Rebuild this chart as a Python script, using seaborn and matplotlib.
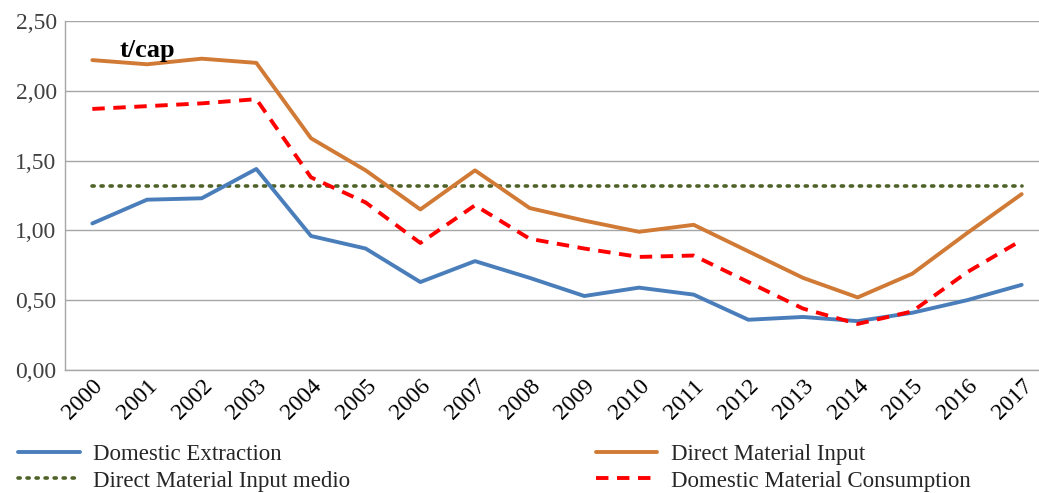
import matplotlib
matplotlib.use("Agg")
import matplotlib.pyplot as plt
import seaborn as sns
import pandas as pd
from matplotlib.ticker import FuncFormatter

years = [str(y) for y in range(2000, 2018)]

domestic_extraction = [1.05, 1.22, 1.23, 1.44, 0.96, 0.87, 0.63, 0.78, 0.66,
                       0.53, 0.59, 0.54, 0.36, 0.38, 0.35, 0.41, 0.50, 0.61]
direct_material_input = [2.22, 2.19, 2.23, 2.20, 1.66, 1.43, 1.15, 1.43, 1.16,
                         1.07, 0.99, 1.04, 0.85, 0.66, 0.52, 0.69, 0.98, 1.26]
dmi_medio = 1.32
domestic_material_consumption = [1.87, 1.89, 1.91, 1.94, 1.38, 1.20, 0.91, 1.18, 0.94,
                                 0.87, 0.81, 0.82, 0.63, 0.44, 0.33, 0.42, 0.70, 0.93]

y_ticks = [0.0, 0.5, 1.0, 1.5, 2.0, 2.5]

sns.set_theme(style="white")
plt.rcParams["font.family"] = ["Liberation Serif", "DejaVu Serif"]

fig = plt.figure(figsize=(10.39, 4.93), dpi=100)
ax = fig.add_axes([65 / 1039, 1 - 370 / 493, (1049 - 65) / 1039, (370 - 21) / 493])

df = pd.DataFrame({
    "year": years,
    "de": domestic_extraction,
    "dmi": direct_material_input,
    "medio": [dmi_medio] * len(years),
    "dmc": domestic_material_consumption,
})

sns.lineplot(data=df, x="year", y="medio", ax=ax, color="#4f6228",
             linewidth=2.6, linestyle=(0, (0.6, 1.9)), dash_capstyle="round",
             label="Direct Material Input medio", sort=False)
sns.lineplot(data=df, x="year", y="de", ax=ax, color="#4a7ebb",
             linewidth=2.8, label="Domestic Extraction", sort=False)
sns.lineplot(data=df, x="year", y="dmi", ax=ax, color="#d07a35",
             linewidth=2.8, label="Direct Material Input", sort=False)
sns.lineplot(data=df, x="year", y="dmc", ax=ax, color="#ff0000",
             linewidth=2.8, linestyle=(0, (3.2, 2.2)),
             label="Domestic Material Consumption", sort=False)

ax.set_xlim(-0.5, len(years) - 0.5)
ax.set_ylim(0, 2.5)
ax.set_yticks(y_ticks)
ax.yaxis.set_major_formatter(FuncFormatter(lambda v, _: f"{v:.2f}".replace(".", ",")))
ax.grid(axis="y", color="#a6a6a6", linewidth=1.0)
ax.grid(axis="x", visible=False)
ax.set_xlabel("")
ax.set_ylabel("")

for side in ["top", "right"]:
    ax.spines[side].set_visible(False)
for side in ["left", "bottom"]:
    ax.spines[side].set_color("#a6a6a6")
    ax.spines[side].set_linewidth(1.0)

ax.tick_params(axis="y", labelsize=17, colors="#404040", length=0, pad=6)
ax.tick_params(axis="x", labelsize=17, colors="#000000", length=0, pad=4)
plt.setp(ax.get_xticklabels(), rotation=45, ha="right", rotation_mode="anchor")

ax.text(0.5, 2.29, "t/cap", fontsize=19, fontweight="bold", color="#000000",
        ha="left", va="center")

handles, labels = ax.get_legend_handles_labels()
order = [1, 0, 2, 3]
ax.get_legend().remove()
fig.legend([handles[i] for i in order], [labels[i] for i in order],
           loc="upper left", bbox_to_anchor=(0.017, 0.10), ncol=2,
           frameon=False, fontsize=16.5, handlelength=2.7, handletextpad=0.6,
           columnspacing=10.7, labelspacing=0.25, borderaxespad=0,
           borderpad=0)

fig.savefig("out.png", dpi=100)
